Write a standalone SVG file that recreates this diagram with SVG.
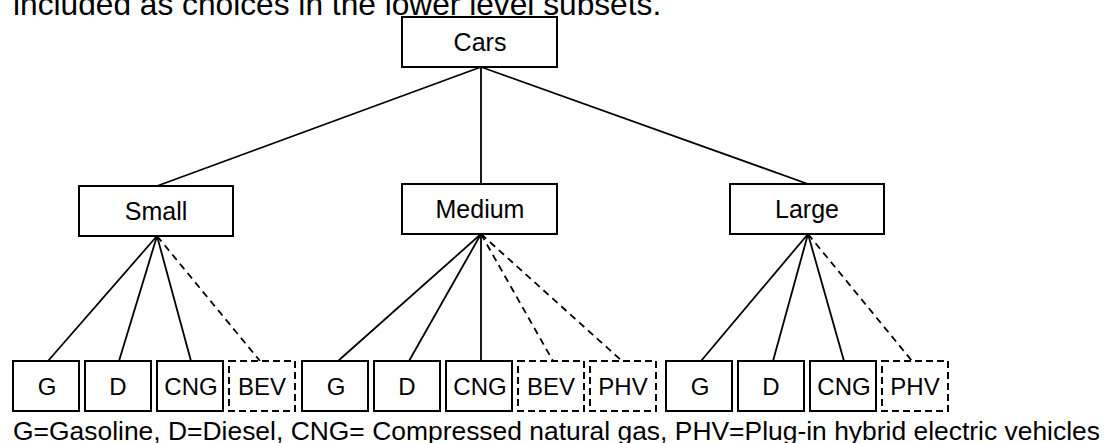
<svg xmlns="http://www.w3.org/2000/svg" width="1110" height="443" viewBox="0 0 1110 443">
<style>
  .box{fill:#fff;stroke:#000;stroke-width:2}
  .dbox{fill:#fff;stroke:#000;stroke-width:2;stroke-dasharray:7 4}
  .lbl{font-family:"Liberation Sans",Arial,sans-serif;font-size:25px;text-anchor:middle;fill:#000}
  .sl{font-family:"Liberation Sans",Arial,sans-serif;font-size:24px;text-anchor:middle;fill:#000}
  .ln{stroke:#000;stroke-width:1.8;fill:none}
  .dl{stroke:#000;stroke-width:1.8;fill:none;stroke-dasharray:7 5}
  .cap{font-family:"Liberation Sans",Arial,sans-serif;fill:#000}
</style>
<rect width="1110" height="443" fill="#fff"/>
<text class="cap" x="13" y="15" font-size="31.7">included as choices in the lower level subsets.</text>
<g id="connectors">
  <line class="ln" x1="481" y1="67" x2="157" y2="186"/>
  <line class="ln" x1="481" y1="67" x2="481" y2="184"/>
  <line class="ln" x1="481" y1="67" x2="808" y2="184"/>
  <line class="ln" x1="157" y1="236" x2="48" y2="361"/>
  <line class="ln" x1="157" y1="236" x2="119" y2="361"/>
  <line class="ln" x1="157" y1="236" x2="191" y2="361"/>
  <line class="dl" x1="157" y1="236" x2="260" y2="361"/>
  <line class="ln" x1="481" y1="234" x2="338" y2="361"/>
  <line class="ln" x1="481" y1="234" x2="409" y2="361"/>
  <line class="ln" x1="481" y1="234" x2="481" y2="361"/>
  <line class="dl" x1="481" y1="234" x2="553" y2="361"/>
  <line class="dl" x1="481" y1="234" x2="622" y2="361"/>
  <line class="ln" x1="808" y1="234" x2="701" y2="361"/>
  <line class="ln" x1="808" y1="234" x2="773" y2="361"/>
  <line class="ln" x1="808" y1="234" x2="844" y2="361"/>
  <line class="dl" x1="808" y1="234" x2="912" y2="361"/>
</g>
<g id="cars"><rect class="box" x="402" y="17" width="155" height="50"/><text class="lbl" x="480" y="51">Cars</text></g>
<g id="small"><rect class="box" x="79" y="186" width="154" height="50"/><text class="lbl" x="156" y="220">Small</text></g>
<g id="medium"><rect class="box" x="402" y="184" width="155" height="50"/><text class="lbl" x="480" y="218">Medium</text></g>
<g id="large"><rect class="box" x="730" y="184" width="154" height="50"/><text class="lbl" x="807" y="218">Large</text></g>
<g id="s-g"><rect class="box" x="13" y="361" width="66" height="50"/><text class="sl" x="47" y="395">G</text></g>
<g id="s-d"><rect class="box" x="85" y="361" width="66" height="50"/><text class="sl" x="118" y="395">D</text></g>
<g id="s-cng"><rect class="box" x="157" y="361" width="66" height="50"/><text class="sl" x="191" y="395">CNG</text></g>
<g id="s-bev"><rect class="dbox" x="229" y="361" width="66" height="50"/><text class="sl" x="262" y="395">BEV</text></g>
<g id="m-g"><rect class="box" x="302" y="361" width="66" height="50"/><text class="sl" x="336" y="395">G</text></g>
<g id="m-d"><rect class="box" x="374" y="361" width="66" height="50"/><text class="sl" x="407" y="395">D</text></g>
<g id="m-cng"><rect class="box" x="446" y="361" width="66" height="50"/><text class="sl" x="480" y="395">CNG</text></g>
<g id="m-bev"><rect class="dbox" x="518" y="361" width="66" height="50"/><text class="sl" x="551" y="395">BEV</text></g>
<g id="m-phv"><rect class="dbox" x="590" y="361" width="66" height="50"/><text class="sl" x="623" y="395">PHV</text></g>
<g id="l-g"><rect class="box" x="666" y="361" width="66" height="50"/><text class="sl" x="700" y="395">G</text></g>
<g id="l-d"><rect class="box" x="738" y="361" width="66" height="50"/><text class="sl" x="771" y="395">D</text></g>
<g id="l-cng"><rect class="box" x="810" y="361" width="66" height="50"/><text class="sl" x="844" y="395">CNG</text></g>
<g id="l-phv"><rect class="dbox" x="882" y="361" width="66" height="50"/><text class="sl" x="915" y="395">PHV</text></g>
<text class="cap" x="13" y="440" font-size="26.4" textLength="1087" lengthAdjust="spacingAndGlyphs">G=Gasoline, D=Diesel, CNG= Compressed natural gas, PHV=Plug-in hybrid electric vehicles</text>
</svg>
